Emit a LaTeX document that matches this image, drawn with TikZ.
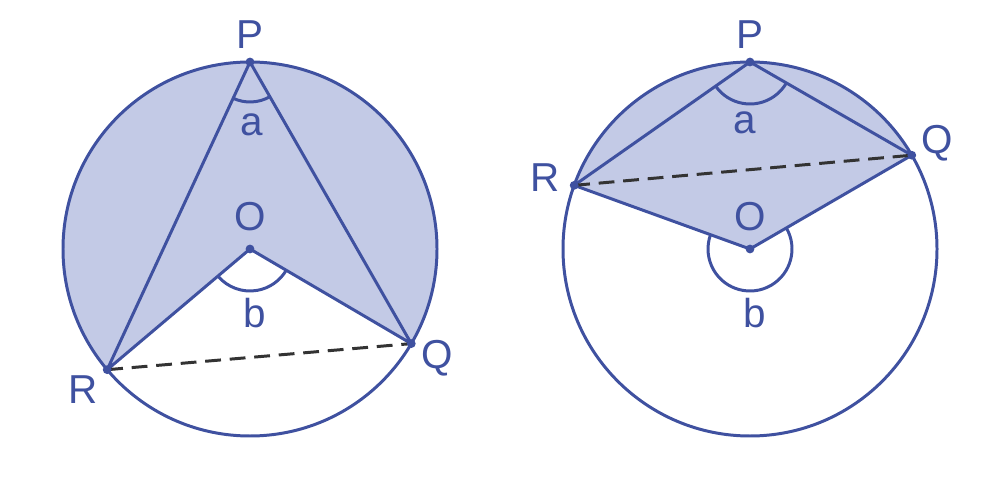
\documentclass[tikz,border=0pt]{standalone}
\usepackage{fontspec}
\usetikzlibrary{calc}
\setmainfont{Liberation Sans}
\begin{document}
\begin{tikzpicture}[x=0.02cm,y=0.02cm,
  ln/.style={draw=blu,line width=1.7pt,line join=round},
  dot/.style={fill=blu,circle,inner sep=0pt,minimum size=5pt},
  lab/.style={text=blu,font=\fontsize{23}{25}\selectfont},
  ch/.style={draw=black!80,line width=1.7pt,dash pattern=on 9pt off 5pt}]
\definecolor{blu}{HTML}{3F51A0}
\definecolor{shd}{HTML}{C3CAE6}
\useasboundingbox (0,0) rectangle (1000,500);
% left
\coordinate (O1) at (250,251);
\coordinate (P1) at (250,438);
\coordinate (R1) at ($(O1)+(220.2:187)$);
\coordinate (Q1) at ($(O1)+(-30.4:187)$);
\fill[shd] (R1)--(O1)--(Q1) arc[start angle=-30.4,end angle=220.2,radius=187]--cycle;
\draw[ln] (O1) circle[radius=187];
\draw[ln] (R1)--(P1)--(Q1) (R1)--(O1)--(Q1);
\draw[ch] (R1)--(Q1);
\draw[ln] ($(P1)+(245.1:40)$) arc[start angle=245.1,end angle=299.9,radius=40];
\draw[ln] ($(O1)+(220.2:42)$) arc[start angle=220.2,end angle=329.6,radius=42];
\foreach \p in {O1,P1,R1,Q1}\node[dot] at (\p){};
\node[lab] (lP1) at (250,465){P};
\node[lab] (lO1) at (250,283){O};
\node[lab] (lR1) at (83,110){R};
\node[lab] (lQ1) at (437,142){Q};
\node[lab] (la1) at (252,375){a};
\node[lab] (lb1) at (255,187){b};
% right
\coordinate (O2) at (750,251);
\coordinate (P2) at (750,438);
\coordinate (R2) at ($(O2)+(160.1:187)$);
\coordinate (Q2) at ($(O2)+(30.1:187)$);
\fill[shd] (R2)--(O2)--(Q2) arc[start angle=30.1,end angle=160.1,radius=187]--cycle;
\draw[ln] (O2) circle[radius=187];
\draw[ln] (R2)--(P2)--(Q2) (R2)--(O2)--(Q2);
\draw[ch] (R2)--(Q2);
\draw[ln] ($(P2)+(214.8:42)$) arc[start angle=214.8,end angle=330.1,radius=42];
\draw[ln] ($(O2)+(30.1:42)$) arc[start angle=30.1,end angle=-199.9,radius=42];
\foreach \p in {O2,P2,R2,Q2}\node[dot] at (\p){};
\node[lab] (lP2) at (750,465){P};
\node[lab] (lO2) at (750,283){O};
\node[lab] (lR2) at (545,322){R};
\node[lab] (lQ2) at (937,357){Q};
\node[lab] (la2) at (745,377){a};
\node[lab] (lb2) at (755,187){b};
\end{tikzpicture}
\end{document}
